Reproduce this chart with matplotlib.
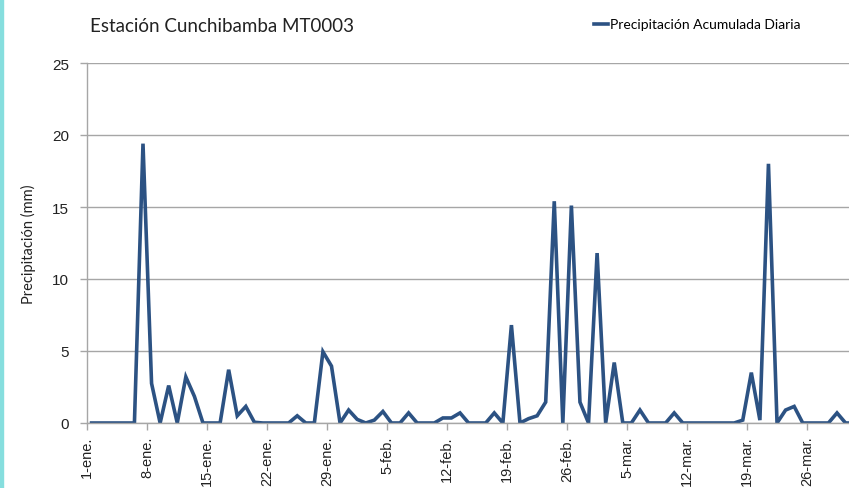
import numpy as np
import matplotlib
matplotlib.use("Agg")
import matplotlib.pyplot as plt
from matplotlib.patches import Rectangle

# daily accumulated precipitation (mm), 1-ene .. 31-mar
precip = [
    0, 0, 0, 0, 0, 0, 19.4, 2.75, 0, 2.6,
    0, 3.2, 1.85, 0, 0, 0, 3.7, 0.5, 1.15, 0.05,
    0, 0, 0, 0, 0.5, 0, 0, 4.95, 3.95, 0,
    0.9, 0.25, 0, 0.2, 0.8, 0, 0, 0.7, 0, 0,
    0, 0.35, 0.35, 0.7, 0, 0, 0, 0.7, 0, 6.8,
    0, 0.3, 0.5, 1.45, 15.4, 0, 15.1, 1.45, 0, 11.8,
    0, 4.2, 0, 0, 0.9, 0, 0, 0, 0.7, 0,
    0, 0, 0, 0, 0, 0, 0.2, 3.5, 0.2, 18.0,
    0, 0.9, 1.15, 0, 0, 0, 0, 0.7, 0, 0,
]
tick_labels = ["1-ene.", "8-ene.", "15-ene.", "22-ene.", "29-ene.", "5-feb.",
               "12-feb.", "19-feb.", "26-feb.", "5-mar.", "12-mar.", "19-mar.",
               "26-mar."]
y_ticks = [0, 5, 10, 15, 20, 25]

line_color = "#2c5283"
grid_color = "#a6a6a6"

fig = plt.figure(figsize=(8.49, 4.89), dpi=100)
ax = fig.add_axes([87.3 / 849, 65 / 489, (849 - 87.3) / 849, 360 / 489])

# points sit between the tick marks (Excel style)
x = np.arange(len(precip)) + 0.5
line, = ax.plot(x, precip, color=line_color, lw=2.6, solid_joinstyle="miter")

ax.set_xlim(0, 88.9)
ax.set_ylim(0, 25)
ax.set_xticks(np.arange(len(tick_labels)) * 7)
ax.set_xticklabels(tick_labels, rotation=90, fontsize=10.5,
                   family="Liberation Sans", color="#222222")
ax.set_yticks(y_ticks)
ax.set_yticklabels([str(v) for v in y_ticks], fontsize=11,
                   family="Liberation Sans", color="#222222")

ax.grid(axis="y", color=grid_color, lw=1)
ax.set_axisbelow(True)
for s in ["top", "right"]:
    ax.spines[s].set_visible(False)
for s in ["left", "bottom"]:
    ax.spines[s].set_color(grid_color)
    ax.spines[s].set_linewidth(1)
ax.tick_params(axis="both", color=grid_color, length=5, width=1)
ax.tick_params(axis="y", pad=8)
ax.tick_params(axis="x", pad=4)

fig.text(0.106, 0.945, "Estación Cunchibamba MT0003", fontsize=13.5,
         family="Lato", color="#222222", va="center", ha="left")
fig.text(0.033, 0.50, "Precipitación (mm)", rotation=90, fontsize=10.5,
         family="Lato", color="#222222", va="center", ha="center")

fig.legend([line], ["Precipitación Acumulada Diaria"], loc="center left",
           bbox_to_anchor=(0.700, 0.948), frameon=False,
           prop={"family": "Lato", "size": 10}, handlelength=1.0,
           handletextpad=0.15, borderpad=0, borderaxespad=0)

# cyan strip on the left edge of the screenshot
fig.patches.append(Rectangle((0, 0), 3 / 849, 1, transform=fig.transFigure,
                             color="#86dede", zorder=5))

fig.savefig("out.png", dpi=100)
